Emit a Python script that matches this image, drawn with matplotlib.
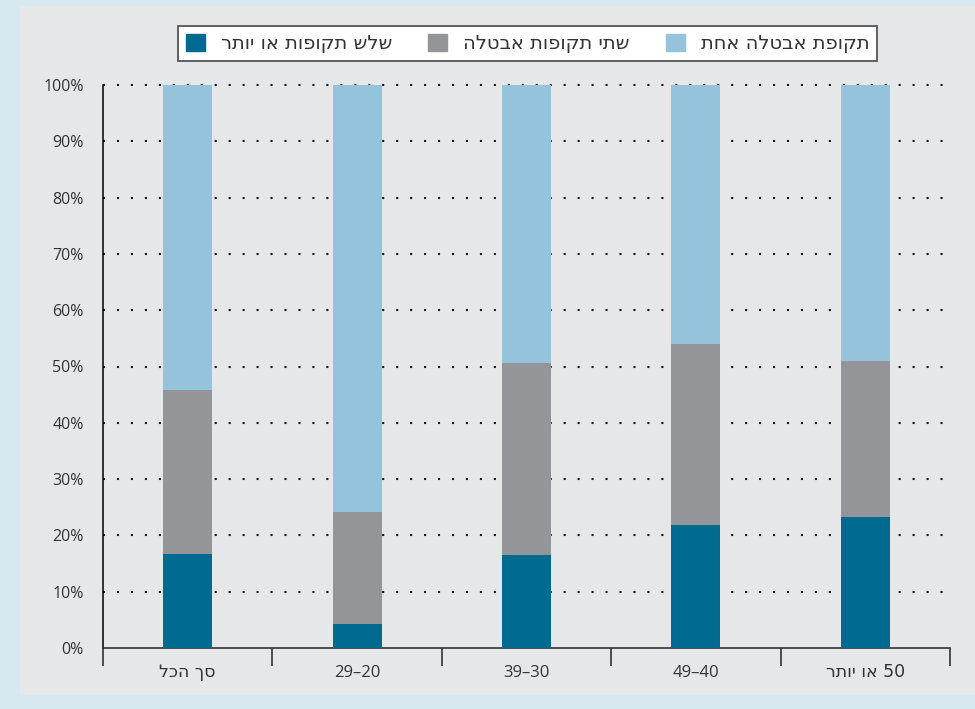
import matplotlib
matplotlib.use("Agg")
import matplotlib.pyplot as plt
from matplotlib.patches import Rectangle, Patch

plt.rcParams['font.family'] = ['Open Sans', 'DejaVu Sans']
heb_font = ['DejaVu Sans']

# categories (written in visual order, Hebrew reversed because matplotlib has no bidi)
categories = ["סך הכל"[::-1], "29–20", "39–30", "49–40", "רתוי וא 50"]
three_plus = [16.7, 4.3, 16.5, 21.8, 23.3]
two = [29.1, 19.9, 34.1, 32.2, 27.7]
one = [54.2, 75.8, 49.4, 46.0, 49.0]
series_names = ["שלש תקופות או יותר", "שתי תקופות אבטלה", "תקופת אבטלה אחת"]
y_ticks = [0, 10, 20, 30, 40, 50, 60, 70, 80, 90, 100]

c_dark = "#006a91"
c_gray = "#949598"
c_light = "#95c3db"
panel = "#e6e7e9"
outer = "#d8e8f0"
text_c = "#333333"


def is_hebrew(s):
    return any("\u0590" <= ch <= "\u05ff" for ch in s)


fig = plt.figure(figsize=(9.75, 7.09), dpi=100)
fig.patch.set_facecolor(outer)
fig.patches.append(Rectangle((20 / 975, 1 - 695 / 709), 1 - 20 / 975, (695 - 6) / 709,
                             transform=fig.transFigure, facecolor=panel,
                             edgecolor="none", zorder=-10))

ax = fig.add_axes([103 / 975, 1 - 648 / 709, 847 / 975, (648 - 85) / 709])
ax.set_facecolor("none")
ax.set_zorder(1)

x = [i + 0.5 for i in range(len(categories))]
w = 0.29
ax.bar(x, three_plus, width=w, color=c_dark, zorder=3)
ax.bar(x, two, width=w, bottom=three_plus, color=c_gray, zorder=3)
bottom2 = [a + b for a, b in zip(three_plus, two)]
ax.bar(x, one, width=w, bottom=bottom2, color=c_light, zorder=3)

# dotted gridlines
for t in y_ticks[1:]:
    ax.plot([0, 5], [t, t], color="#111111", lw=1.5,
            linestyle=(0, (1, 5.7)), zorder=1, clip_on=False)

ax.set_xlim(0, 5)
ax.set_ylim(0, 100)
ax.set_yticks(y_ticks)
ax.set_yticklabels([f"{t}%" for t in y_ticks], fontsize=11.5, color=text_c)
ax.tick_params(axis="y", length=0, pad=14)

# category boundaries as ticks, category names as baseline-aligned text
ax.set_xticks(range(6))
ax.set_xticklabels([""] * 6)
ax.tick_params(axis="x", which="major", length=13, width=1.2, color="#333333")
for xi, lab in zip(x, categories):
    if is_hebrew(lab):
        ax.text(xi, -0.0515, lab, transform=ax.get_xaxis_transform(),
                ha="center", va="baseline", fontsize=12.5, family=heb_font,
                color=text_c)
    else:
        ax.text(xi, -0.0515, lab, transform=ax.get_xaxis_transform(),
                ha="center", va="baseline", fontsize=12, color=text_c)

for s in ["top", "right"]:
    ax.spines[s].set_visible(False)
ax.spines["left"].set_color("#111111")
ax.spines["left"].set_linewidth(1.2)
ax.spines["bottom"].set_color("#333333")
ax.spines["bottom"].set_linewidth(1.2)

handles = [Patch(color=c_dark), Patch(color=c_gray), Patch(color=c_light)]
leg = fig.legend(handles, [s[::-1] for s in series_names], loc="center",
                 bbox_to_anchor=(527.5 / 975, 1 - 43.5 / 709), ncol=3,
                 prop={"family": heb_font, "size": 14},
                 frameon=True, fancybox=False,
                 handlelength=0.98, handleheight=0.98, handletextpad=0.82,
                 columnspacing=1.85, borderpad=0.42)
leg.get_frame().set_edgecolor("#555555")
leg.get_frame().set_linewidth(1.3)
leg.get_frame().set_facecolor("white")
leg.get_frame().set_alpha(1)
for t in leg.get_texts():
    t.set_color(text_c)

fig.savefig("out.png", dpi=100, facecolor=fig.get_facecolor())
